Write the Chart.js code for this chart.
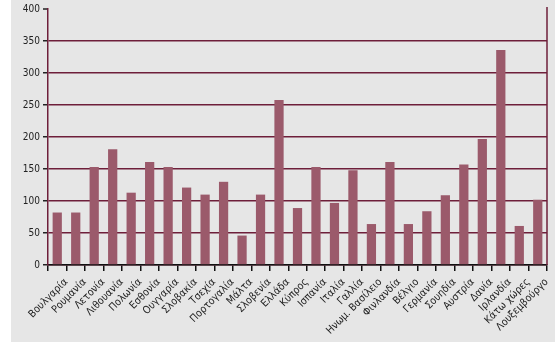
<!DOCTYPE html>
<html>
<head>
<meta charset="utf-8">
<script src="https://cdn.jsdelivr.net/npm/chart.js@4/dist/chart.umd.min.js"></script>
<style>
    html, body { margin: 0; padding: 0; background: #fff; }
    #box { position: absolute; left: 11px; top: 0; width: 544px; height: 342px; background: #e6e6e6; }
</style>
</head>
<body>
<div id="box"><canvas id="chart" width="544" height="342"></canvas></div>
<script>
// Countries (Greek labels) and values
const countries = [
    'Βουλγαρία', 'Ρουμανία', 'Λετονία', 'Λιθουανία', 'Πολωνία', 'Εσθονία',
    'Ουγγαρία', 'Σλοβακία', 'Τσεχία', 'Πορτογαλία', 'Μάλτα', 'Σλοβενία',
    'Ελλάδα', 'Κύπρος', 'Ισπανία', 'Ιταλία', 'Γαλλία', 'Ηνωμ. Βασίλειο',
    'Φινλανδία', 'Βέλγιο', 'Γερμανία', 'Σουηδία', 'Αυστρία', 'Δανία',
    'Ιρλανδία', 'Κάτω χώρες', 'Λουξεμβούργο'
];
const values = [
    82, 82, 153, 181, 113, 161,
    153, 121, 110, 130, 46, 110,
    258, 89, 153, 97, 148, 64,
    161, 64, 84, 109, 157, 197,
    336, 61, 102
];
const yTicks = [0, 50, 100, 150, 200, 250, 300, 350, 400];

const barColor = '#9b5a6b';
const gridColor = '#6e1f3a';
const fontFamily = "'DejaVu Sans Condensed', 'DejaVu Sans', sans-serif";

// Right-hand frame line of the plot area
const rightBorder = {
    id: 'rightBorder',
    afterDraw(chart) {
        const { ctx, chartArea } = chart;
        ctx.save();
        ctx.strokeStyle = gridColor;
        ctx.lineWidth = 1.5;
        ctx.beginPath();
        ctx.moveTo(chartArea.right, chartArea.top - 2);
        ctx.lineTo(chartArea.right, chartArea.bottom);
        ctx.stroke();
        ctx.restore();
    }
};

// no gridline across the top (400) - only the tick mark
const isTop = ctx => ctx.index === yTicks.length - 1;

new Chart(document.getElementById('chart'), {
    type: 'bar',
    data: {
        labels: countries,
        datasets: [{
            data: values,
            backgroundColor: barColor,
            borderWidth: 0,
            categoryPercentage: 1,
            barPercentage: 0.5
        }]
    },
    options: {
        responsive: false,
        animation: false,
        layout: { padding: { top: 5, right: 8, left: 0, bottom: 0 } },
        plugins: {
            legend: { display: false },
            tooltip: { enabled: false }
        },
        scales: {
            x: {
                offset: true,
                grid: {
                    offset: true,
                    drawOnChartArea: false,
                    color: '#111',
                    tickLength: 6,
                    lineWidth: 1.5
                },
                border: { color: '#111', width: 1.5 },
                ticks: {
                    autoSkip: false,
                    minRotation: 45,
                    maxRotation: 45,
                    padding: 5,
                    labelOffset: 9,
                    color: '#222',
                    font: { family: fontFamily, size: 10.5 }
                },
                afterFit(scale) { scale.height = 77; }
            },
            y: {
                min: 0,
                max: 400,
                afterBuildTicks(scale) {
                    scale.ticks = yTicks.map(v => ({ value: v }));
                },
                grid: {
                    color: ctx => isTop(ctx) ? 'rgba(0,0,0,0)' : gridColor,
                    lineWidth: ctx => isTop(ctx) ? 0 : 1.5,
                    tickWidth: 1.5,
                    tickLength: 5,
                    tickColor: '#222'
                },
                border: { color: gridColor, width: 1.5 },
                ticks: {
                    padding: 3,
                    color: '#222',
                    font: { family: fontFamily, size: 10 }
                },
                afterFit(scale) { scale.width = 37; }
            }
        }
    },
    plugins: [rightBorder]
});
</script>
</body>
</html>
